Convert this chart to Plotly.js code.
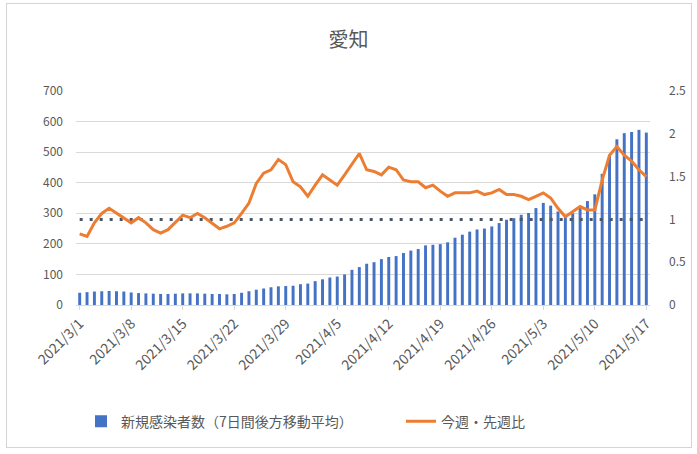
<!DOCTYPE html>
<html>
<head>
<meta charset="utf-8">
<script src="https://cdn.plot.ly/plotly-3.0.1.min.js"></script>
<style>
  html, body { margin: 0; padding: 0; background: #ffffff; }
  #wrap { position: relative; width: 697px; height: 454px; }
  #chart { position: absolute; left: 0; top: 0; width: 697px; height: 454px; }
  #frame { position: absolute; left: 6px; top: 3px; width: 684px; height: 443px;
           border: 1px solid #d4d4d4; pointer-events: none; }
</style>
</head>
<body>
<div id="wrap"><div id="chart"></div><div id="frame"></div></div>
<script>
const categories = [
  "2021/3/1","2021/3/2","2021/3/3","2021/3/4","2021/3/5","2021/3/6","2021/3/7",
  "2021/3/8","2021/3/9","2021/3/10","2021/3/11","2021/3/12","2021/3/13","2021/3/14",
  "2021/3/15","2021/3/16","2021/3/17","2021/3/18","2021/3/19","2021/3/20","2021/3/21",
  "2021/3/22","2021/3/23","2021/3/24","2021/3/25","2021/3/26","2021/3/27","2021/3/28",
  "2021/3/29","2021/3/30","2021/3/31","2021/4/1","2021/4/2","2021/4/3","2021/4/4",
  "2021/4/5","2021/4/6","2021/4/7","2021/4/8","2021/4/9","2021/4/10","2021/4/11",
  "2021/4/12","2021/4/13","2021/4/14","2021/4/15","2021/4/16","2021/4/17","2021/4/18",
  "2021/4/19","2021/4/20","2021/4/21","2021/4/22","2021/4/23","2021/4/24","2021/4/25",
  "2021/4/26","2021/4/27","2021/4/28","2021/4/29","2021/4/30","2021/5/1","2021/5/2",
  "2021/5/3","2021/5/4","2021/5/5","2021/5/6","2021/5/7","2021/5/8","2021/5/9",
  "2021/5/10","2021/5/11","2021/5/12","2021/5/13","2021/5/14","2021/5/15","2021/5/16",
  "2021/5/17"
];

const newCases7dAvg = [
  40, 42, 44, 45, 46, 45, 44,
  41, 39, 38, 37, 36, 36, 37,
  38, 38, 38, 37, 36, 36, 35,
  36, 40, 45, 50, 54, 58, 61,
  62, 63, 68, 70, 78, 84, 90,
  93, 100, 115, 124, 135, 140, 150,
  157, 160, 170, 178, 183, 195, 197,
  199, 205, 220, 230, 240, 247, 250,
  257, 268, 279, 284, 295, 301, 317,
  334, 325, 306, 292, 300, 322, 340,
  362, 429, 491, 542, 562, 566, 573,
  564
];

const weekOverWeek = [
  0.83, 0.80, 0.96, 1.07, 1.13, 1.07, 1.02,
  0.96, 1.02, 0.96, 0.88, 0.84, 0.88, 0.96,
  1.05, 1.02, 1.07, 1.02, 0.96, 0.89, 0.92,
  0.96, 1.07, 1.19, 1.42, 1.54, 1.58, 1.70,
  1.64, 1.44, 1.38, 1.27, 1.40, 1.52, 1.46,
  1.40, 1.52, 1.64, 1.77, 1.58, 1.56, 1.52,
  1.61, 1.58, 1.46, 1.44, 1.44, 1.37, 1.40,
  1.33, 1.27, 1.31, 1.31, 1.31, 1.33, 1.29,
  1.31, 1.35, 1.29, 1.29, 1.27, 1.23, 1.27,
  1.31, 1.25, 1.13, 1.03, 1.09, 1.15, 1.11,
  1.11, 1.46, 1.75, 1.85, 1.75, 1.68, 1.58,
  1.50
];

const referenceRatio = 1;

const tickLabels = [
  "2021/3/1","2021/3/8","2021/3/15","2021/3/22","2021/3/29","2021/4/5",
  "2021/4/12","2021/4/19","2021/4/26","2021/5/3","2021/5/10","2021/5/17"
];

const leftTicks = [0, 100, 200, 300, 400, 500, 600, 700];
const rightTicks = [0, 0.5, 1, 1.5, 2, 2.5];
const rightTickText = ["0", "0.5", "1", "1.5", "2", "2.5"];

const FONT = '"Noto Sans CJK JP", "Noto Sans", sans-serif';
const GREY = '#595959';

const traces = [
  {
    type: 'bar',
    name: '新規感染者数（7日間後方移動平均）',
    x: categories,
    y: newCases7dAvg,
    marker: { color: '#4472C4' },
    yaxis: 'y',
    legend: 'legend'
  },
  {
    type: 'scatter',
    mode: 'lines',
    x: [categories[0], categories[categories.length - 1]],
    y: [referenceRatio, referenceRatio],
    line: { color: '#4a5568', width: 3, dash: '3px,7px' },
    showlegend: false,
    yaxis: 'y2'
  },
  {
    type: 'scatter',
    mode: 'lines',
    name: '今週・先週比',
    x: categories,
    y: weekOverWeek,
    line: { color: '#ED7D31', width: 3 },
    yaxis: 'y2',
    legend: 'legend2'
  }
];

const legendCommon = {
  orientation: 'h',
  xanchor: 'left',
  y: -0.545, yanchor: 'middle',
  font: { family: FONT, size: 14, color: GREY },
  bgcolor: 'rgba(0,0,0,0)'
};

const layout = {
  width: 697,
  height: 454,
  margin: { l: 76, r: 47, t: 91, b: 149 },
  paper_bgcolor: '#ffffff',
  plot_bgcolor: '#ffffff',
  font: { family: FONT, color: GREY },
  title: {
    text: '愛知',
    font: { family: FONT, size: 20, color: GREY },
    x: 0.5, xref: 'container', xanchor: 'center',
    y: 1 - 40 / 454, yref: 'container', yanchor: 'middle'
  },
  bargap: 0.6,
  showlegend: true,
  legend: Object.assign({}, legendCommon, { x: (81 - 76) / 574 }),
  legend2: Object.assign({}, legendCommon, { x: (401 - 76) / 574 }),
  xaxis: {
    type: 'category',
    range: [-0.5, categories.length - 0.5],
    tickmode: 'array',
    tickvals: tickLabels,
    ticktext: tickLabels,
    tickangle: -45,
    tickfont: { family: FONT, size: 14, color: GREY },
    ticks: 'outside',
    ticklen: 4,
    tickcolor: '#d9d9d9',
    showline: true,
    linecolor: '#d9d9d9',
    linewidth: 1,
    showgrid: false,
    zeroline: false,
    automargin: false
  },
  yaxis: {
    range: [0, 700],
    tickmode: 'array',
    tickvals: leftTicks,
    tickfont: { family: FONT, size: 12, color: GREY },
    showgrid: true,
    gridcolor: '#d9d9d9',
    gridwidth: 1,
    zeroline: false,
    showline: false,
    ticks: '',
    ticklabelstandoff: 12,
    automargin: false
  },
  yaxis2: {
    overlaying: 'y',
    side: 'right',
    range: [0, 2.5],
    tickmode: 'array',
    tickvals: rightTicks,
    ticktext: rightTickText,
    tickfont: { family: FONT, size: 12, color: GREY },
    showgrid: false,
    zeroline: false,
    showline: false,
    ticks: '',
    ticklabelstandoff: 18,
    automargin: false
  }
};

Plotly.newPlot('chart', traces, layout, { displayModeBar: false, staticPlot: true });
</script>
</body>
</html>
